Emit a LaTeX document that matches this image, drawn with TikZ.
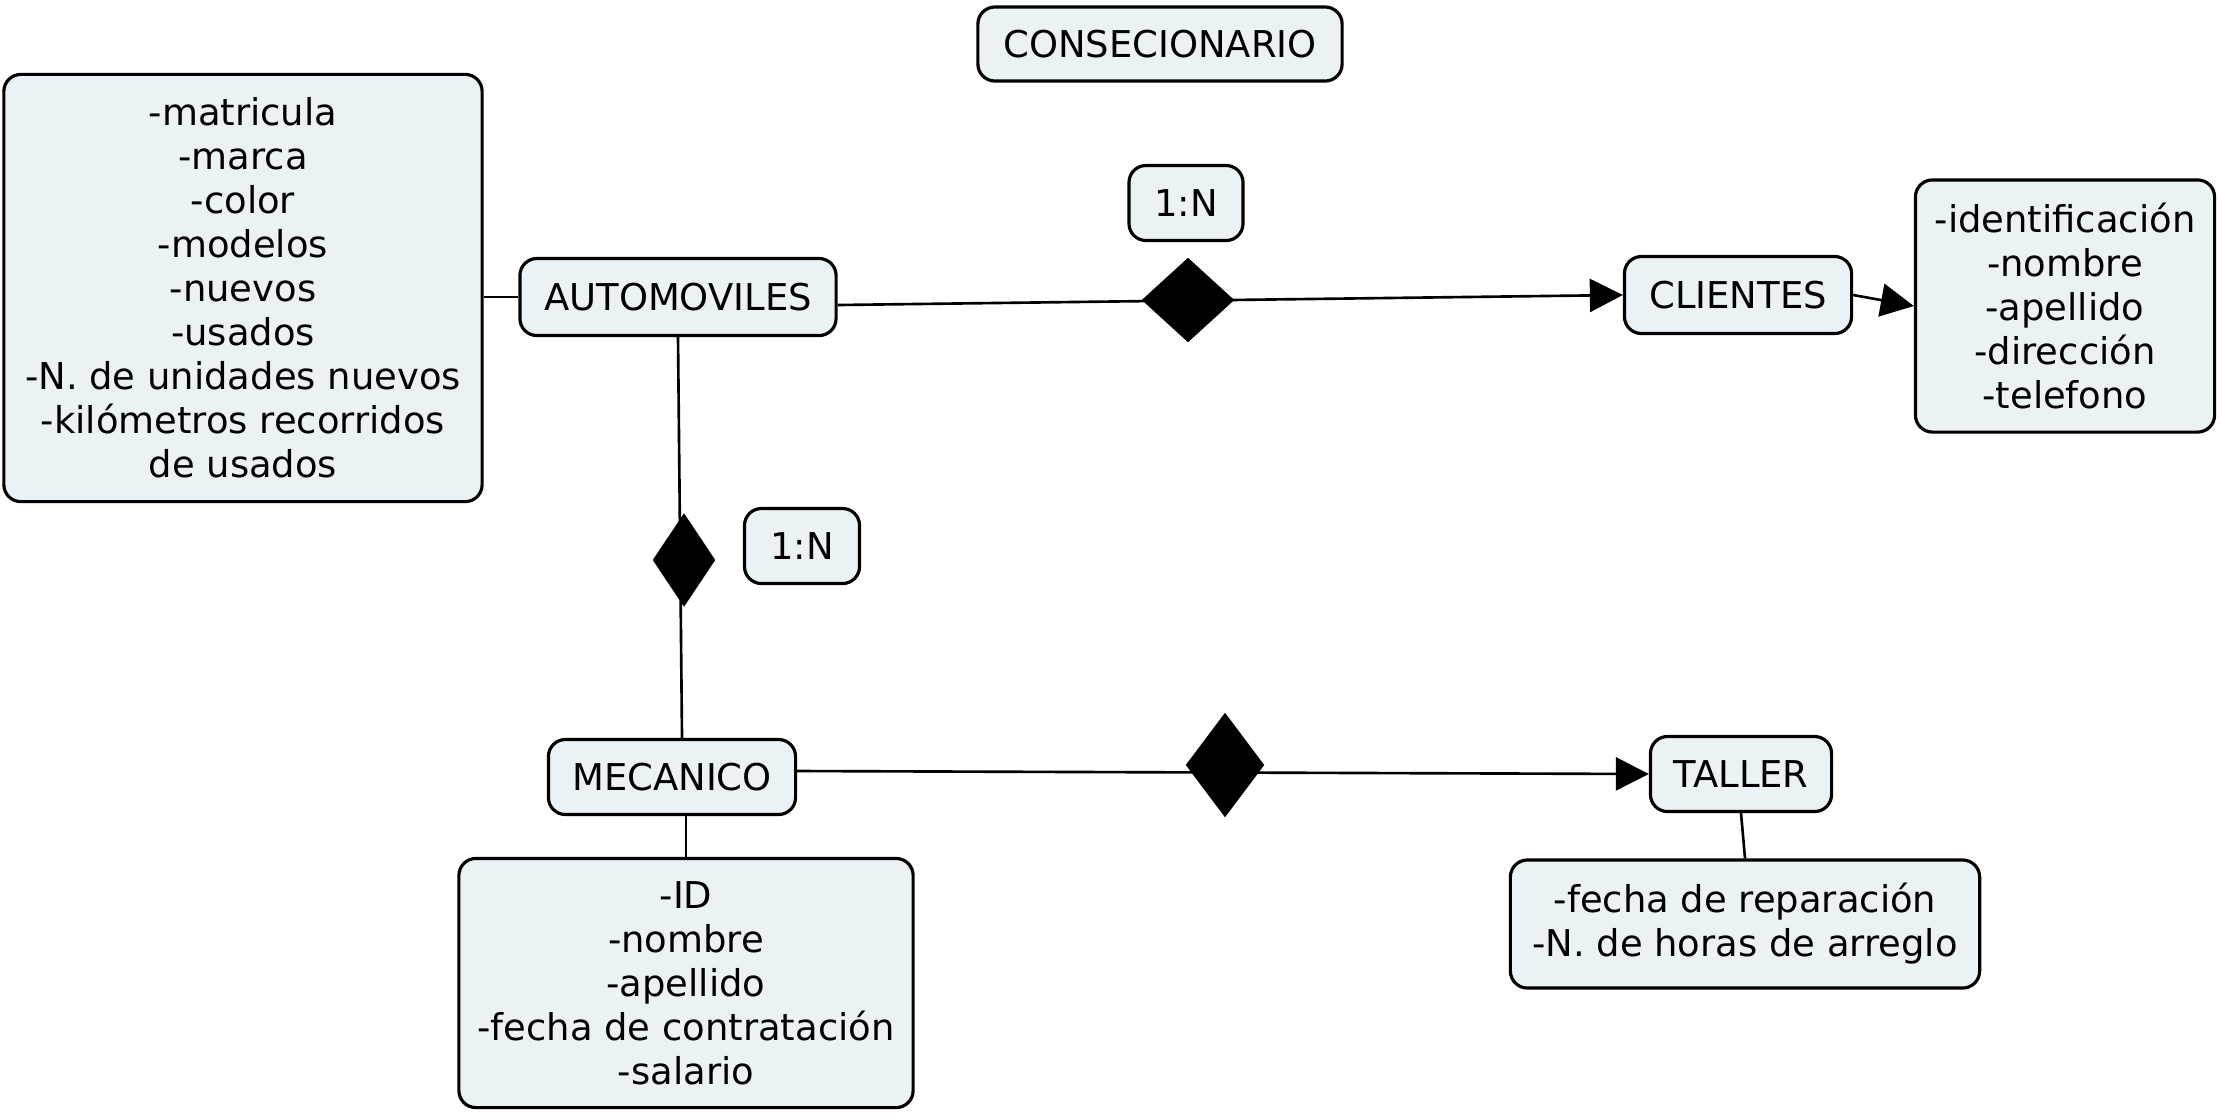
\documentclass[tikz,border=0pt]{standalone}
\usepackage{fontspec}
\setmainfont{DejaVu Sans}
\usetikzlibrary{shapes.geometric,arrows.meta}
\definecolor{boxfill}{RGB}{235,242,245}
\tikzset{
  box/.style={draw, line width=0.9pt, rounded corners=0.17cm, fill=boxfill,
    align=center, inner sep=0pt, font=\fontsize{10.5}{12.5}\selectfont},
  rel/.style={diamond, fill=black, inner sep=0pt},
  link/.style={line width=0.75pt},
  arrow/.style={line width=0.75pt, -{Triangle[length=0.33cm,width=0.33cm]}}
}
\begin{document}
\begin{tikzpicture}[x=0.01cm, y=-0.01cm]
        \useasboundingbox (0,0) rectangle (2222,1114);

        % Title
        \node[box, minimum width=3.64cm, minimum height=0.74cm] (cons) at (1160,44) {CONSECIONARIO};

        % Entities
        \node[box, minimum width=3.16cm, minimum height=0.77cm] (auto) at (678,297) {AUTOMOVILES};
        \node[box, minimum width=2.27cm, minimum height=0.77cm] (cli) at (1738,295) {CLIENTES};
        \node[box, minimum width=2.47cm, minimum height=0.75cm] (mec) at (672,777) {MECANICO};
        \node[box, minimum width=1.81cm, minimum height=0.75cm] (tal) at (1741,774) {TALLER};

        % Attributes
        \node[box, minimum width=4.78cm, minimum height=4.27cm] (attrA) at (243,288)
          {-matricula\\-marca\\-color\\-modelos\\-nuevos\\-usados\\-N. de unidades nuevos\\-kilómetros recorridos\\de usados};
        \node[box, minimum width=2.99cm, minimum height=2.52cm] (attrC) at (2065,306)
          {-identificación\\-nombre\\-apellido\\-dirección\\-telefono};
        \node[box, minimum width=4.54cm, minimum height=2.49cm] (attrM) at (686,983)
          {-ID\\-nombre\\-apellido\\-fecha de contratación\\-salario};
        \node[box, minimum width=4.69cm, minimum height=1.28cm] (attrT) at (1745,924)
          {-fecha de reparación\\-N. de horas de arreglo};

        % Cardinalities
        \node[box, minimum width=1.14cm, minimum height=0.75cm] (card1) at (1186,203) {1:N};
        \node[box, minimum width=1.15cm, minimum height=0.75cm] (card2) at (802,546) {1:N};

        % Connectors
        \draw[link] (attrA.east |- auto.west) -- (auto.west);
        \draw[arrow] ([yshift=-0.08cm]auto.east) -- (cli.west);
        \draw[arrow] (cli.east) -- (attrC.west);
        \draw[link] (auto.south) -- ([xshift=0.1cm]mec.north);
        \draw[arrow] ([yshift=0.06cm]mec.east) -- (tal.west);
        \draw[link] (attrM.north |- mec.south) -- (attrM.north);
        \draw[link] (tal.south) -- (attrT.north);

        % Relations
        \node[rel, minimum width=0.93cm, minimum height=0.85cm] (rel1) at (1188,300) {};
        \node[rel, minimum width=0.63cm, minimum height=0.94cm] (rel2) at (684,560) {};
        \node[rel, minimum width=0.79cm, minimum height=1.05cm] (rel3) at (1225,765) {};
\end{tikzpicture}
\end{document}
